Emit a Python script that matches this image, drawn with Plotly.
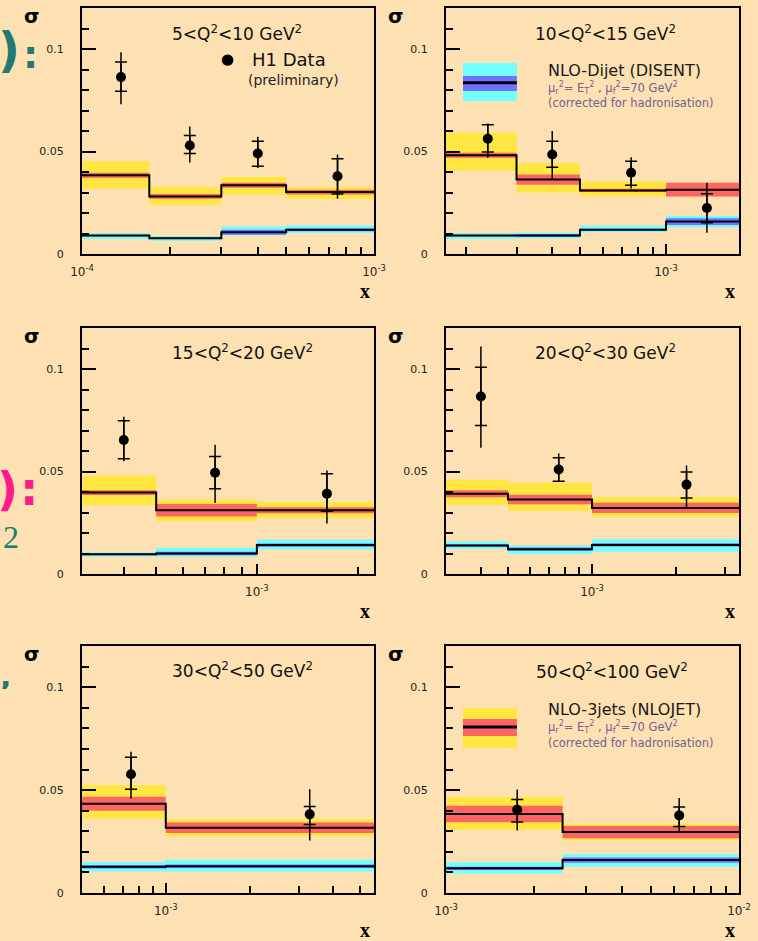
import math
import plotly.graph_objects as go

BG = "#FDE1B2"
YEL, RED = "#FFE640", "#FF6464"
CYAN, BLUE = "#72FFFF", "#7272FF"
TEAL, PINK = "#237A72", "#FF1A8C"
FONT = "DejaVu Sans"

# ---------------- Q^2 bins ----------------
titles = [
    "5<Q<sup>2</sup><10 GeV<sup>2</sup>",
    "10<Q<sup>2</sup><15 GeV<sup>2</sup>",
    "15<Q<sup>2</sup><20 GeV<sup>2</sup>",
    "20<Q<sup>2</sup><30 GeV<sup>2</sup>",
    "30<Q<sup>2</sup><50 GeV<sup>2</sup>",
    "50<Q<sup>2</sup><100 GeV<sup>2</sup>",
]

# x bin edges per Q^2 bin (the outer edges also set the axis range)
edges_1 = [1e-4, 1.7e-4, 3e-4, 5e-4, 1e-3]
edges_2 = [1.7e-4, 3e-4, 5e-4, 1e-3, 1.8e-3]
edges_3 = [3e-4, 5e-4, 1e-3, 2.24e-3]
edges_4 = [3e-4, 5e-4, 1e-3, 3.36e-3]
edges_5 = [5e-4, 1e-3, 5.6e-3]
edges_6 = [1e-3, 2.5e-3, 1e-2]

# ---------------- H1 data ----------------
data_x_1 = [1.36e-4, 2.34e-4, 4.0e-4, 7.5e-4]
data_y_1 = [0.0863, 0.0529, 0.0490, 0.0379]
stat_up_1 = [0.0073, 0.0049, 0.0060, 0.0086]
stat_dn_1 = [0.0069, 0.0039, 0.0062, 0.0086]
tot_up_1 = [0.0121, 0.0093, 0.0082, 0.0106]
tot_dn_1 = [0.0133, 0.0083, 0.0070, 0.0109]

data_x_2 = [2.38e-4, 4.0e-4, 7.55e-4, 1.39e-3]
data_y_2 = [0.0562, 0.0485, 0.0396, 0.0224]
stat_up_2 = [0.0069, 0.0065, 0.0056, 0.0070]
stat_dn_2 = [0.0065, 0.0062, 0.0061, 0.0071]
tot_up_2 = [0.0075, 0.0115, 0.0076, 0.0123]
tot_dn_2 = [0.0092, 0.0122, 0.0077, 0.0120]

data_x_3 = [4.0e-4, 7.5e-4, 1.62e-3]
data_y_3 = [0.0654, 0.0494, 0.0392]
stat_up_3 = [0.0094, 0.0079, 0.0097]
stat_dn_3 = [0.0092, 0.0078, 0.0086]
tot_up_3 = [0.0113, 0.0137, 0.0113]
tot_dn_3 = [0.0104, 0.0148, 0.0146]

data_x_4 = [4.0e-4, 7.6e-4, 2.18e-3]
data_y_4 = [0.0866, 0.0510, 0.0436]
stat_up_4 = [0.0142, 0.0057, 0.0062]
stat_dn_4 = [0.0141, 0.0058, 0.0065]
tot_up_4 = [0.0244, 0.0078, 0.0093]
tot_dn_4 = [0.0250, 0.0060, 0.0114]

data_x_5 = [7.5e-4, 3.29e-3]
data_y_5 = [0.0577, 0.0382]
stat_up_5 = [0.0082, 0.0038]
stat_dn_5 = [0.0073, 0.0049]
tot_up_5 = [0.0109, 0.0122]
tot_dn_5 = [0.0118, 0.0127]

data_x_6 = [1.75e-3, 6.25e-3]
data_y_6 = [0.0405, 0.0377]
stat_up_6 = [0.0049, 0.0041]
stat_dn_6 = [0.0060, 0.0054]
tot_up_6 = [0.0098, 0.0085]
tot_dn_6 = [0.0101, 0.0081]

# ---------------- NLO 3-jet (NLOJET) ----------------
tri_1 = [0.0384, 0.0281, 0.0335, 0.0302]
tri_scale_hi_1 = [0.0452, 0.0327, 0.0376, 0.0327]
tri_scale_lo_1 = [0.0319, 0.0240, 0.0289, 0.0268]
tri_err_1 = [0.0012, 0.0012, 0.0012, 0.0012]

tri_2 = [0.0482, 0.0363, 0.0310, 0.0314]
tri_scale_hi_2 = [0.0592, 0.0444, 0.0354, 0.0347]
tri_scale_lo_2 = [0.0407, 0.0300, 0.0281, 0.0281]
tri_err_2 = [0.0012, 0.0025, 0.0008, 0.0033]

tri_3 = [0.0397, 0.0311, 0.0311]
tri_scale_hi_3 = [0.0480, 0.0363, 0.0351]
tri_scale_lo_3 = [0.0335, 0.0257, 0.0273]
tri_err_3 = [0.0012, 0.0030, 0.0015]

tri_4 = [0.0392, 0.0363, 0.0322]
tri_scale_hi_4 = [0.0460, 0.0445, 0.0374]
tri_scale_lo_4 = [0.0338, 0.0309, 0.0278]
tri_err_4 = [0.0017, 0.0023, 0.0025]

tri_5 = [0.0434, 0.0317]
tri_scale_hi_5 = [0.0525, 0.0358]
tri_scale_lo_5 = [0.0361, 0.0276]
tri_err_5 = [0.0034, 0.0025]

tri_6 = [0.0384, 0.0296]
tri_scale_hi_6 = [0.0466, 0.0337]
tri_scale_lo_6 = [0.0307, 0.0255]
tri_err_6 = [0.0040, 0.0030]

# ---------------- NLO dijet (DISENT) ----------------
di_1 = [0.0090, 0.0077, 0.0106, 0.0118]
di_scale_hi_1 = [0.0101, 0.0088, 0.0134, 0.0140]
di_scale_lo_1 = [0.0074, 0.0065, 0.0090, 0.0103]
di_err_1 = [0.0004, 0.0004, 0.0012, 0.0007]

di_2 = [0.0090, 0.0090, 0.0118, 0.0158]
di_scale_hi_2 = [0.0101, 0.0104, 0.0139, 0.0186]
di_scale_lo_2 = [0.0074, 0.0077, 0.0106, 0.0131]
di_err_2 = [0.0004, 0.0007, 0.0005, 0.0017]

di_3 = [0.0096, 0.0100, 0.0141]
di_scale_hi_3 = [0.0105, 0.0128, 0.0168]
di_scale_lo_3 = [0.0085, 0.0084, 0.0120]
di_err_3 = [0.0004, 0.0008, 0.0008]

di_4 = [0.0139, 0.0121, 0.0142]
di_scale_hi_4 = [0.0158, 0.0139, 0.0170]
di_scale_lo_4 = [0.0123, 0.0097, 0.0109]
di_err_4 = [0.0006, 0.0008, 0.0008]

di_5 = [0.0127, 0.0130]
di_scale_hi_5 = [0.0151, 0.0162]
di_scale_lo_5 = [0.0105, 0.0105]
di_err_5 = [0.0008, 0.0009]

di_6 = [0.0120, 0.0160]
di_scale_hi_6 = [0.0149, 0.0188]
di_scale_lo_6 = [0.0095, 0.0127]
di_err_6 = [0.0008, 0.0013]

y_tick_vals = [0, 0.05, 0.1]
y_tick_text = ["0", "0.05", "0.1"]
y_max = 0.12

g = globals()
panels = []
for i in range(1, 7):
    panels.append(dict(
        title=titles[i - 1], edges=g[f"edges_{i}"],
        x=g[f"data_x_{i}"], y=g[f"data_y_{i}"],
        su=g[f"stat_up_{i}"], sd=g[f"stat_dn_{i}"],
        tu=g[f"tot_up_{i}"], td=g[f"tot_dn_{i}"],
        tri=g[f"tri_{i}"], tri_hi=g[f"tri_scale_hi_{i}"],
        tri_lo=g[f"tri_scale_lo_{i}"], tri_err=g[f"tri_err_{i}"],
        di=g[f"di_{i}"], di_hi=g[f"di_scale_hi_{i}"],
        di_lo=g[f"di_scale_lo_{i}"], di_err=g[f"di_err_{i}"],
    ))

# pixel frames of the six pads inside a 758 x 941 canvas
W, H = 758, 941
cols = [(82, 374), (446, 739)]
rows = [(8, 254), (328, 574), (646, 893)]

fig = go.Figure()


def step(edges, vals):
    return list(edges), list(vals) + [vals[-1]]


def band(ax, ay, edges, lo, hi, color):
    xs, ylo = step(edges, lo)
    _, yhi = step(edges, hi)
    fig.add_trace(go.Scatter(x=xs, y=ylo, mode="lines", line=dict(width=0, shape="hv"),
                             xaxis=ax, yaxis=ay, showlegend=False, hoverinfo="skip"))
    fig.add_trace(go.Scatter(x=xs, y=yhi, mode="lines", line=dict(width=0, shape="hv"),
                             fill="tonexty", fillcolor=color,
                             xaxis=ax, yaxis=ay, showlegend=False, hoverinfo="skip"))


def central(ax, ay, edges, vals):
    xs, ys = step(edges, vals)
    fig.add_trace(go.Scatter(x=xs, y=ys, mode="lines", line=dict(color="black", width=2, shape="hv"),
                             xaxis=ax, yaxis=ay, showlegend=False, hoverinfo="skip"))


for k, p in enumerate(panels):
    n = k + 1
    ax = "x" if n == 1 else f"x{n}"
    ay = "y" if n == 1 else f"y{n}"
    e = p["edges"]
    # 3-jet prediction: scale band, then its inner uncertainty, then central value
    band(ax, ay, e, p["tri_lo"], p["tri_hi"], YEL)
    band(ax, ay, e, [v - d for v, d in zip(p["tri"], p["tri_err"])],
         [v + d for v, d in zip(p["tri"], p["tri_err"])], RED)
    central(ax, ay, e, p["tri"])
    # dijet prediction
    band(ax, ay, e, p["di_lo"], p["di_hi"], CYAN)
    band(ax, ay, e, [v - d for v, d in zip(p["di"], p["di_err"])],
         [v + d for v, d in zip(p["di"], p["di_err"])], BLUE)
    central(ax, ay, e, p["di"])
    # data: statistical ticks, then total error and points
    fig.add_trace(go.Scatter(
        x=p["x"], y=p["y"], mode="markers", marker=dict(size=1, color="black"),
        error_y=dict(type="data", symmetric=False, array=p["su"], arrayminus=p["sd"],
                     color="black", thickness=1.5, width=6),
        xaxis=ax, yaxis=ay, showlegend=False, hoverinfo="skip"))
    fig.add_trace(go.Scatter(
        x=p["x"], y=p["y"], mode="markers", marker=dict(size=10, color="black"),
        error_y=dict(type="data", symmetric=False, array=p["tu"], arrayminus=p["td"],
                     color="black", thickness=1.5, width=0),
        xaxis=ax, yaxis=ay, showlegend=False, hoverinfo="skip"))

layout = dict(
    width=W, height=H, margin=dict(l=0, r=0, t=0, b=0, pad=0, autoexpand=False),
    paper_bgcolor=BG, plot_bgcolor=BG, showlegend=False,
    font=dict(family=FONT, color="#1a1a1a"),
)

annotations = []
shapes = []

for k, p in enumerate(panels):
    n = k + 1
    c, r = k % 2, k // 2
    x0, x1 = cols[c]
    y0, y1 = rows[r]
    lo, hi = math.log10(p["edges"][0]), math.log10(p["edges"][-1])
    majors, minors = [], []
    for d in range(math.floor(lo) - 1, math.ceil(hi) + 1):
        for m in range(1, 10):
            v = m * 10.0 ** d
            lv = math.log10(v)
            if lo - 1e-6 <= lv <= hi + 1e-6:
                (majors if m == 1 else minors).append(v)
    xa = dict(
        type="log", domain=[x0 / W, x1 / W], range=[lo, hi], automargin=False,
        anchor="y" if n == 1 else f"y{n}",
        showline=True, linecolor="black", linewidth=2, mirror=True,
        showgrid=False, zeroline=False,
        ticks="inside", ticklen=10, tickwidth=1.5, tickcolor="black",
        tickmode="array", tickvals=majors,
        ticktext=[f"10<sup>{round(math.log10(v))}</sup>" for v in majors],
        tickfont=dict(size=12, family=FONT, color="#222"), ticklabelstandoff=6,
        minor=dict(tickmode="array", tickvals=minors, ticks="inside", ticklen=7,
                   tickwidth=1.5, tickcolor="black", showgrid=False),
    )
    ya = dict(
        domain=[1 - y1 / H, 1 - y0 / H], range=[0, y_max], automargin=False,
        anchor="x" if n == 1 else f"x{n}",
        showline=True, linecolor="black", linewidth=2, mirror=True,
        showgrid=False, zeroline=False,
        ticks="inside", ticklen=14, tickwidth=1.5, tickcolor="black",
        tickmode="array", tickvals=y_tick_vals, ticktext=y_tick_text,
        tickfont=dict(size=11, family=FONT, color="#222"), ticklabelstandoff=14,
        minor=dict(dtick=0.01, tick0=0, ticks="inside", ticklen=7, tickwidth=1.5,
                   tickcolor="black", showgrid=False),
    )
    layout["xaxis" if n == 1 else f"xaxis{n}"] = xa
    layout["yaxis" if n == 1 else f"yaxis{n}"] = ya

    xd = ("x" if n == 1 else f"x{n}") + " domain"
    yd = ("y" if n == 1 else f"y{n}") + " domain"
    title_pos = [(0.53, 0.898), (0.546, 0.898), (0.551, 0.904),
                 (0.543, 0.904), (0.548, 0.903), (0.567, 0.900)][k]
    annotations.append(dict(text=p["title"], xref=xd, yref=yd, x=title_pos[0], y=title_pos[1],
                            showarrow=False, font=dict(size=17, family=FONT, color="#111"),
                            xanchor="center", yanchor="middle"))
    # axis labels
    annotations.append(dict(text="<b>x</b>", xref=xd, yref=yd, x=0.97, y=-0.15,
                            showarrow=False, font=dict(size=20, family="Liberation Serif", color="black"),
                            xanchor="center", yanchor="middle", height=18))
    annotations.append(dict(text="<b>σ</b>", xref=xd, yref=yd, x=-0.17, y=0.968,
                            showarrow=False, font=dict(size=20, family=FONT, color="black"),
                            xanchor="center", yanchor="middle", height=16))

# H1 data legend (first pad)
annotations += [
    dict(text="●", xref="x domain", yref="y domain", x=0.497, y=0.793, showarrow=False,
         font=dict(size=15, color="black"), xanchor="center", yanchor="middle"),
    dict(text="H1 Data", xref="x domain", yref="y domain", x=0.575, y=0.789, showarrow=False,
         font=dict(size=18, family=FONT, color="#111"), xanchor="left", yanchor="middle"),
    dict(text="(preliminary)", xref="x domain", yref="y domain", x=0.56, y=0.707, showarrow=False,
         font=dict(size=14, family=FONT, color="#222"), xanchor="left", yanchor="middle"),
]

SUB = "#6E6296"
scale_txt = "μ<sub>r</sub><sup>2</sup>= E<sub>T</sub><sup>2</sup> , μ<sub>f</sub><sup>2</sup>=70 GeV<sup>2</sup>"
corr_txt = "(corrected for hadronisation)"

# dijet legend (second pad)
for (y_a, y_b, col) in [(0.622, 0.776, CYAN), (0.663, 0.724, BLUE)]:
    shapes.append(dict(type="rect", xref="x2 domain", yref="y2 domain", x0=0.058, x1=0.242,
                       y0=y_a, y1=y_b, fillcolor=col, line=dict(width=0), layer="above"))
shapes.append(dict(type="line", xref="x2 domain", yref="y2 domain", x0=0.058, x1=0.242,
                   y0=0.696, y1=0.696, line=dict(color="black", width=3), layer="above"))
annotations += [
    dict(text="NLO-Dijet (DISENT)", xref="x2 domain", yref="y2 domain", x=0.34, y=0.744,
         showarrow=False, font=dict(size=16, family=FONT, color="#1a1a1a"), xanchor="left", yanchor="middle"),
    dict(text=scale_txt, xref="x2 domain", yref="y2 domain", x=0.34, y=0.676,
         showarrow=False, font=dict(size=11.5, family=FONT, color=SUB), xanchor="left", yanchor="middle"),
    dict(text=corr_txt, xref="x2 domain", yref="y2 domain", x=0.34, y=0.612,
         showarrow=False, font=dict(size=11.5, family=FONT, color=SUB), xanchor="left", yanchor="middle"),
]

# 3-jet legend (last pad)
for (y_a, y_b, col) in [(0.587, 0.749, YEL), (0.636, 0.704, RED)]:
    shapes.append(dict(type="rect", xref="x6 domain", yref="y6 domain", x0=0.058, x1=0.242,
                       y0=y_a, y1=y_b, fillcolor=col, line=dict(width=0), layer="above"))
shapes.append(dict(type="line", xref="x6 domain", yref="y6 domain", x0=0.058, x1=0.242,
                   y0=0.672, y1=0.672, line=dict(color="black", width=3), layer="above"))
annotations += [
    dict(text="NLO-3jets (NLOJET)", xref="x6 domain", yref="y6 domain", x=0.34, y=0.741,
         showarrow=False, font=dict(size=16, family=FONT, color="#1a1a1a"), xanchor="left", yanchor="middle"),
    dict(text=scale_txt, xref="x6 domain", yref="y6 domain", x=0.34, y=0.672,
         showarrow=False, font=dict(size=11.5, family=FONT, color=SUB), xanchor="left", yanchor="middle"),
    dict(text=corr_txt, xref="x6 domain", yref="y6 domain", x=0.34, y=0.609,
         showarrow=False, font=dict(size=11.5, family=FONT, color=SUB), xanchor="left", yanchor="middle"),
]


# slide text running in from the left edge
def edge_text(txt, xc, yc, size, color, family=FONT, height=None):
    ann = dict(text=txt, xref="paper", yref="paper", x=xc / W, y=1 - yc / H,
               showarrow=False, font=dict(size=size, family=family, color=color),
               xanchor="center", yanchor="middle")
    if height:
        ann["height"] = height
    annotations.append(ann)


edge_text("<b>)</b>", 9, 50, 48, TEAL, height=50)
edge_text("<b>:</b>", 30, 55, 38, TEAL, height=34)
edge_text("<b>)</b>", 7, 489, 46, PINK, height=48)
edge_text("<b>:</b>", 29, 489, 46, PINK, height=48)
edge_text("2", 11, 537, 32, TEAL, "Liberation Serif", height=26)
edge_text("<b>,</b>", 5, 676, 30, TEAL, height=26)

layout["annotations"] = annotations
layout["shapes"] = shapes
fig.update_layout(**layout)
fig.write_html("out.html")
